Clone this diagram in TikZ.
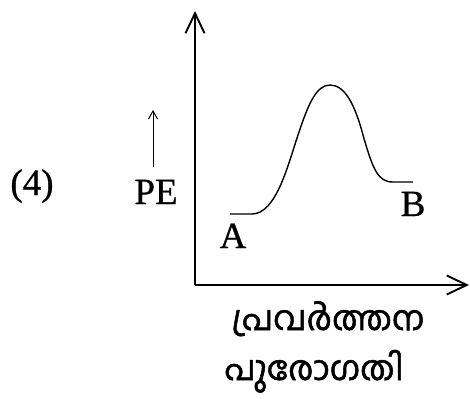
\documentclass[tikz,border=0pt]{standalone}
\usepackage{fontspec}
\setmainfont[FakeBold=0.8]{Liberation Serif}
\newfontfamily\malfont[Script=Malayalam,FakeBold=1.5]{Hind Kochi}
\usetikzlibrary{arrows.meta}
\begin{document}
\begin{tikzpicture}[x=1pt,y=-1pt,
  axis/.style={line width=2pt,-{Straight Barb[length=20pt,width=19pt,line width=1.9pt]}},
  lbl/.style={font=\fontsize{37}{39}\selectfont,inner sep=0pt,anchor=base},
  mal/.style={font=\malfont\fontsize{34}{36}\selectfont,inner sep=0pt,anchor=base}]
\useasboundingbox (0,0) rectangle (470,398);
\coordinate (O) at (195,285);
\coordinate (ytip) at (195,11);
\coordinate (xtip) at (469,285);
\draw[axis] (O) -- (ytip);
\draw[axis] (O) -- (xtip);
% curve
\coordinate (A0) at (230,214);
\coordinate (A1) at (252,214);
\coordinate (P) at (330,85);
\coordinate (B1) at (393,182);
\coordinate (B0) at (413,182);
\draw[line width=1.4pt] (A0) -- (A1)
  .. controls (276,214) and (288,165) .. (298,135)
  .. controls (308,105) and (316,85) .. (P)
  .. controls (345,85) and (355,105) .. (363,135)
  .. controls (373,170) and (378,182) .. (B1) -- (B0);
\node[lbl] (four) at (32,195) {(4)};
\node[lbl] (pe) at (156,204) {PE};
\coordinate (peBot) at (153,167);
\coordinate (peTop) at (153,110);
\draw[line width=1pt,-{Straight Barb[length=8pt,width=9pt,line width=1pt]}] (peBot) -- (peTop);
\node[lbl] (a) at (233,248) {A};
\node[lbl] (b) at (413,216) {B};
\node[mal] (x1) at (328,330) {പ്രവർത്തന};
\node[mal] (x2) at (314,380) {പുരോഗതി};
\end{tikzpicture}
\end{document}
